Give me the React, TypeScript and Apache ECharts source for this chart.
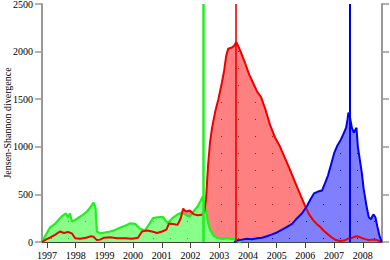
import React, { useEffect, useRef } from "react";
import * as echarts from "echarts";

const yearTicks = [1997, 1998, 1999, 2000, 2001, 2002, 2003, 2004, 2005, 2006, 2007, 2008];

const greenYears = [1996.83, 1996.86, 1996.97, 1997.1, 1997.28, 1997.45, 1997.56, 1997.66, 1997.73, 1997.8, 1997.87, 1997.98, 1998.12, 1998.25, 1998.39, 1998.5, 1998.57, 1998.62, 1998.69, 1998.74, 1998.85, 1999.02, 1999.2, 1999.37, 1999.54, 1999.72, 1999.89, 2000.07, 2000.24, 2000.41, 2000.59, 2000.69, 2000.86, 2001.03, 2001.14, 2001.2, 2001.37, 2001.55, 2001.72, 2001.86, 2001.97, 2002.1, 2002.24, 2002.35, 2002.43, 2002.48, 2002.56, 2002.61, 2002.68, 2002.79, 2002.92, 2003.1, 2003.27, 2003.45, 2003.59, 2003.66, 2003.75];
const greenValues = [0, 20, 80, 150, 190, 250, 280, 300, 260, 300, 215, 230, 260, 285, 320, 360, 390, 415, 360, 110, 90, 100, 110, 125, 150, 170, 195, 190, 140, 120, 200, 250, 260, 265, 220, 200, 250, 290, 310, 280, 265, 320, 370, 430, 480, 400, 290, 200, 130, 70, 45, 30, 40, 30, 35, 5, 0];

const redYears = [1996.83, 1996.99, 1997.1, 1997.28, 1997.45, 1997.59, 1997.73, 1997.87, 1997.98, 1998.15, 1998.36, 1998.53, 1998.62, 1998.74, 1998.85, 1998.99, 1999.2, 1999.44, 1999.72, 1999.96, 2000.17, 2000.31, 2000.48, 2000.66, 2000.83, 2001.01, 2001.16, 2001.25, 2001.39, 2001.55, 2001.66, 2001.74, 2001.84, 2001.97, 2002.12, 2002.26, 2002.4, 2002.48, 2002.54, 2002.61, 2002.68, 2002.75, 2002.86, 2002.97, 2003.09, 2003.17, 2003.24, 2003.31, 2003.42, 2003.52, 2003.59, 2003.66, 2003.76, 2003.9, 2004.04, 2004.18, 2004.32, 2004.46, 2004.6, 2004.77, 2004.94, 2005.12, 2005.29, 2005.47, 2005.64, 2005.82, 2005.99, 2006.13, 2006.27, 2006.41, 2006.51, 2006.65, 2006.79, 2006.93, 2007.07, 2007.21, 2007.35, 2007.49, 2007.63, 2007.77, 2007.87, 2007.94, 2008.08, 2008.22, 2008.36, 2008.5, 2008.66];
const redValues = [0, 30, 45, 75, 110, 95, 105, 90, 40, 35, 45, 60, 55, 20, 25, 45, 50, 40, 40, 35, 45, 110, 120, 110, 95, 110, 130, 195, 190, 180, 250, 350, 320, 330, 290, 280, 285, 320, 450, 800, 1050, 1200, 1370, 1500, 1670, 1800, 1950, 2030, 2040, 2060, 2100, 2060, 1990, 1880, 1760, 1670, 1580, 1520, 1400, 1230, 1100, 1000, 880, 755, 630, 500, 380, 290, 230, 185, 160, 115, 80, 45, 20, 10, 15, 35, 45, 60, 55, 45, 30, 20, 25, 20, 0];

const blueYears = [2003.52, 2003.62, 2003.79, 2003.97, 2004.14, 2004.32, 2004.49, 2004.66, 2004.84, 2005.01, 2005.19, 2005.36, 2005.54, 2005.71, 2005.88, 2006.06, 2006.2, 2006.3, 2006.44, 2006.58, 2006.69, 2006.79, 2006.9, 2007.0, 2007.11, 2007.21, 2007.32, 2007.42, 2007.47, 2007.5, 2007.56, 2007.62, 2007.69, 2007.78, 2007.83, 2007.9, 2007.97, 2008.03, 2008.13, 2008.21, 2008.28, 2008.37, 2008.44, 2008.51, 2008.58, 2008.66];
const blueValues = [0, 15, 25, 35, 30, 40, 45, 60, 80, 100, 130, 160, 190, 250, 300, 380, 460, 510, 530, 540, 620, 700, 820, 930, 1010, 1060, 1130, 1200, 1290, 1360, 1300, 1200, 1150, 1200, 1000, 860, 720, 560, 380, 260, 240, 290, 260, 160, 70, 0];

const greenMarkerYear = 2002.46;
const redMarkerYear = 2003.575;
const blueMarkerYear = 2007.558;

const FONT = "Liberation Serif";

function pairs(xs: number[], ys: number[]) {
  return xs.map((x, i) => [x, ys[i]]);
}

function fillSeries(xs: number[], ys: number[], fill: string, dot: string) {
  return {
    type: "line",
    data: pairs(xs, ys),
    symbol: "none",
    showSymbol: false,
    silent: true,
    lineStyle: { width: 0, opacity: 0 },
    areaStyle: { color: fill, opacity: 1 },
    itemStyle: {
      color: fill,
      decal: {
        symbol: "rect",
        symbolSize: 1,
        color: dot,
        dashArrayX: [1, 16],
        dashArrayY: [1, 16],
        rotation: 0,
      },
    },
    z: 1,
  };
}

function lineSeries(xs: number[], ys: number[], color: string, marker: number, width: number, markWidth: number) {
  return {
    type: "line",
    data: pairs(xs, ys),
    symbol: "none",
    showSymbol: false,
    silent: true,
    lineStyle: { color, width },
    z: 3,
    markLine: {
      silent: true,
      symbol: "none",
      label: { show: false },
      lineStyle: { color, width: markWidth, type: "solid", opacity: 1 },
      data: [{ xAxis: marker }],
      z: 4,
    },
  };
}

export default function App() {
  const ref = useRef<HTMLDivElement>(null);
  useEffect(() => {
    document.body.style.margin = "0";
    const chart = echarts.init(ref.current!, null, { renderer: "svg" });
    const labelStyle = { fontFamily: FONT, fontSize: 10, color: "#000" };
    chart.setOption({
      animation: false,
      backgroundColor: "#fff",
      textStyle: { fontFamily: FONT },
      grid: { left: 42, right: 8, top: 4, bottom: 18, containLabel: false, outerBoundsMode: "none" },
      graphic: [
        {
          type: "text",
          x: 7,
          y: 123,
          rotation: Math.PI / 2,
          style: {
            text: "Jensen-Shannon divergence",
            fontFamily: FONT,
            fontSize: 10,
            fill: "#000",
            align: "center",
            verticalAlign: "middle",
          },
        },
      ],
      xAxis: [
        {
          type: "value",
          min: 1996.826,
          max: 2008.67,
          axisLine: { show: true, lineStyle: { color: "#444", width: 1 } },
          axisTick: { show: true, inside: false, length: 6, lineStyle: { color: "#444" }, customValues: yearTicks },
          axisLabel: { ...labelStyle, margin: 8, customValues: yearTicks, formatter: (v: number) => String(Math.round(v)) },
          splitLine: { show: false },
        },
        {
          type: "value",
          position: "top",
          min: 1996.826,
          max: 2008.67,
          axisLine: { show: true, lineStyle: { color: "#444", width: 1 } },
          axisTick: { show: false },
          axisLabel: { show: false },
          splitLine: { show: false },
        },
      ],
      yAxis: [
        {
          type: "value",
          min: 0,
          max: 2500,
          interval: 500,
          axisLine: { show: true, lineStyle: { color: "#999", width: 2 } },
          axisTick: { show: true, length: 7, lineStyle: { color: "#999", width: 1.5 } },
          axisLabel: { ...labelStyle, margin: 9, formatter: (v: number) => String(v) },
          splitLine: { show: false },
        },
        {
          type: "value",
          position: "right",
          min: 0,
          max: 2500,
          interval: 500,
          axisLine: { show: true, lineStyle: { color: "#999", width: 2 } },
          axisTick: { show: true, length: 7, lineStyle: { color: "#999", width: 1.5 } },
          axisLabel: { show: false },
          splitLine: { show: false },
        },
      ],
      series: [
        fillSeries(redYears, redValues, "#ff8080", "#e00000"),
        fillSeries(greenYears, greenValues, "#88ff88", "#20c020"),
        fillSeries(blueYears, blueValues, "#8080ff", "#0000e0"),
        lineSeries(greenYears, greenValues, "#22ee22", greenMarkerYear, 2.2, 2.5),
        lineSeries(redYears, redValues, "#ee0000", redMarkerYear, 2, 1.6),
        lineSeries(blueYears, blueValues, "#0000ee", blueMarkerYear, 2, 2),
      ],
    });
    return () => chart.dispose();
  }, []);
  return <div ref={ref} style={{ width: 390, height: 260 }} />;
}
